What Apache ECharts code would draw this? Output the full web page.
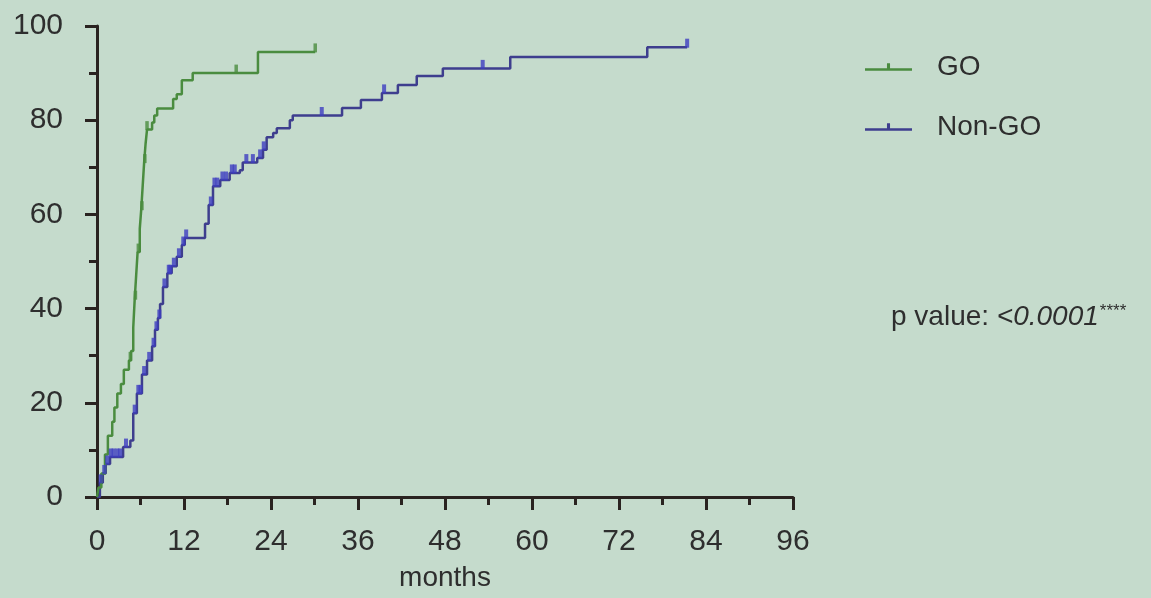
<!DOCTYPE html>
<html>
<head>
<meta charset="utf-8">
<script src="https://cdn.jsdelivr.net/npm/echarts@6/dist/echarts.min.js"></script>
<style>
html,body{margin:0;padding:0;background:#c5dbcc;}
#c{width:1151px;height:598px;}
</style>
</head>
<body>
<div id="c"></div>
<script>
// ---- data (months, cumulative %) ----
const xTicks = [0, 12, 24, 36, 48, 60, 72, 84, 96];
const yTicks = [0, 20, 40, 60, 80, 100];

const goMonths = [0, 0.2, 0.6, 1.1, 1.5, 2.1, 2.4, 2.8, 3.3, 3.7, 4.4, 4.7, 5.0, 5.2, 5.4, 5.6, 5.9, 6.1, 6.3, 6.5, 6.7, 6.9, 7.6, 7.9, 8.3, 10.5, 11.0, 11.7, 13.2, 22.2, 30.1];
const goValues = [0, 2, 5, 9, 13, 16, 19, 22, 24, 27, 29, 31, 36, 42, 47, 52, 57, 61, 66, 71, 75, 78, 79.5, 81, 82.5, 84.5, 85.5, 88.5, 90, 94.5, 94.5];
const goCensorMonths = [4.6, 5.3, 5.7, 6.2, 6.6, 6.9, 19.2, 30.1];

const nonGoMonths = [0, 0.4, 0.8, 1.2, 1.8, 3.6, 4.6, 5.0, 5.5, 6.2, 6.9, 7.6, 8.0, 8.4, 8.7, 9.1, 9.7, 10.3, 11.0, 11.7, 12.1, 14.9, 15.4, 16.0, 17.0, 18.3, 19.7, 20.1, 22.1, 22.9, 23.4, 24.3, 24.8, 26.6, 27.0, 33.8, 36.4, 39.3, 41.5, 44.1, 47.7, 57.0, 75.9, 81.4];
const nonGoValues = [0, 3, 5, 7, 8.5, 10.6, 12, 17.8, 22, 26, 29, 32, 35.5, 38, 41, 44.6, 47.5, 49, 51, 53.5, 55, 58, 62, 66, 67.3, 68.8, 69.4, 71, 72, 73.7, 76.4, 77.3, 78.3, 80, 81, 82.6, 84.3, 85.8, 87.5, 89.4, 91, 93.4, 95.5, 95.5];
const nonGoCensorMonths = [0.5, 1.0, 1.4, 1.9, 2.3, 2.8, 3.2, 4.0, 5.2, 5.7, 6.0, 6.5, 7.2, 7.8, 8.2, 8.6, 9.3, 9.9, 10.1, 10.6, 11.3, 11.9, 12.3, 15.7, 16.2, 16.6, 17.3, 17.8, 18.6, 19.0, 20.6, 21.5, 22.5, 23.0, 31.0, 39.6, 53.2, 81.4];

const pText = 'p value: ';
const pValue = '<0.0001';
const pStars = '****';

// ---- helpers ----
function pairs(xs, ys) { return xs.map((x, i) => [x, ys[i]]); }
function stepAt(xs, ys, t) {
  let v = ys[0];
  for (let i = 0; i < xs.length; i++) { if (xs[i] <= t) v = ys[i]; }
  return v;
}
function censor(xs, ys, ts) { return ts.map(t => [t, stepAt(xs, ys, t)]); }

const GREEN = '#4a8c3f';
const BLUE_LINE = '#3e3e8e';
const BLUE_TICK = '#3d3dc0';
const AX = '#2a2320';
const TXT = '#2e2e2e';
const FONT = 'Liberation Sans';

const chart = echarts.init(document.getElementById('c'));
chart.setOption({
  backgroundColor: '#c5dbcc',
  animation: false,
  grid: { left: 97, right: 358, top: 26, bottom: 101, containLabel: false, outerBoundsMode: 'none' },
  legend: {
    orient: 'vertical',
    left: 865,
    top: 53,
    itemWidth: 47,
    itemHeight: 8,
    itemGap: 32,
    padding: 0,
    data: [
      { name: 'GO', icon: 'path://M0,5H46V7.5H0Z M21.5,0H24.5V5H21.5Z' },
      { name: 'Non-GO', icon: 'path://M0,5H46V7.5H0Z M21.5,0H24.5V5H21.5Z' }
    ],
    textStyle: { fontSize: 28, color: TXT, fontFamily: FONT, padding: [0, 0, 0, 20] }
  },
  xAxis: {
    type: 'value',
    min: xTicks[0],
    max: xTicks[xTicks.length - 1],
    interval: 12,
    name: 'months',
    nameLocation: 'middle',
    nameGap: 67,
    nameTextStyle: { fontSize: 28, color: TXT, fontFamily: FONT },
    axisLine: { show: true, lineStyle: { color: AX, width: 3 } },
    axisTick: { show: true, length: 13, lineStyle: { color: AX, width: 3 } },
    minorTick: { show: true, splitNumber: 2, length: 8, lineStyle: { color: AX, width: 3 } },
    splitLine: { show: false },
    axisLabel: { fontSize: 30, color: TXT, fontFamily: FONT, margin: 30 }
  },
  yAxis: {
    type: 'value',
    min: yTicks[0],
    max: yTicks[yTicks.length - 1],
    interval: 20,
    axisLine: { show: true, lineStyle: { color: AX, width: 3 } },
    axisTick: { show: true, length: 12, lineStyle: { color: AX, width: 3 } },
    minorTick: { show: true, splitNumber: 2, length: 8, lineStyle: { color: AX, width: 3 } },
    splitLine: { show: false },
    axisLabel: { fontSize: 30, color: TXT, fontFamily: FONT, margin: 34 }
  },
  series: [
    {
      name: 'GO', type: 'line', step: 'end', showSymbol: false, symbol: 'none',
      data: pairs(goMonths, goValues),
      lineStyle: { color: GREEN, width: 2.5 }, itemStyle: { color: GREEN }, z: 3
    },
    {
      name: 'Non-GO', type: 'line', step: 'end', showSymbol: false, symbol: 'none',
      data: pairs(nonGoMonths, nonGoValues),
      lineStyle: { color: BLUE_LINE, width: 2.5 }, itemStyle: { color: BLUE_LINE }, z: 2
    },
    {
      name: 'GO censored', type: 'scatter', symbol: 'rect', symbolSize: [3.5, 9], symbolOffset: [0, -4],
      data: censor(goMonths, goValues, goCensorMonths), itemStyle: { color: GREEN }, z: 4
    },
    {
      name: 'Non-GO censored', type: 'scatter', symbol: 'rect', symbolSize: [4, 9], symbolOffset: [0, -4],
      data: censor(nonGoMonths, nonGoValues, nonGoCensorMonths), itemStyle: { color: BLUE_TICK }, z: 4
    }
  ],
  graphic: [
    {
      type: 'text', left: 891, top: 303,
      style: {
        text: '{a|' + pText + '}{b|' + pValue + '}{c|' + pStars + '}',
        rich: {
          a: { fontSize: 28, fontFamily: FONT, fill: TXT },
          b: { fontSize: 28, fontFamily: FONT, fontStyle: 'italic', fill: TXT },
          c: { fontSize: 17, fontFamily: FONT, fill: TXT, verticalAlign: 'top', padding: [0, 0, 12, 1] }
        }
      }
    }
  ]
});
</script>
</body>
</html>
